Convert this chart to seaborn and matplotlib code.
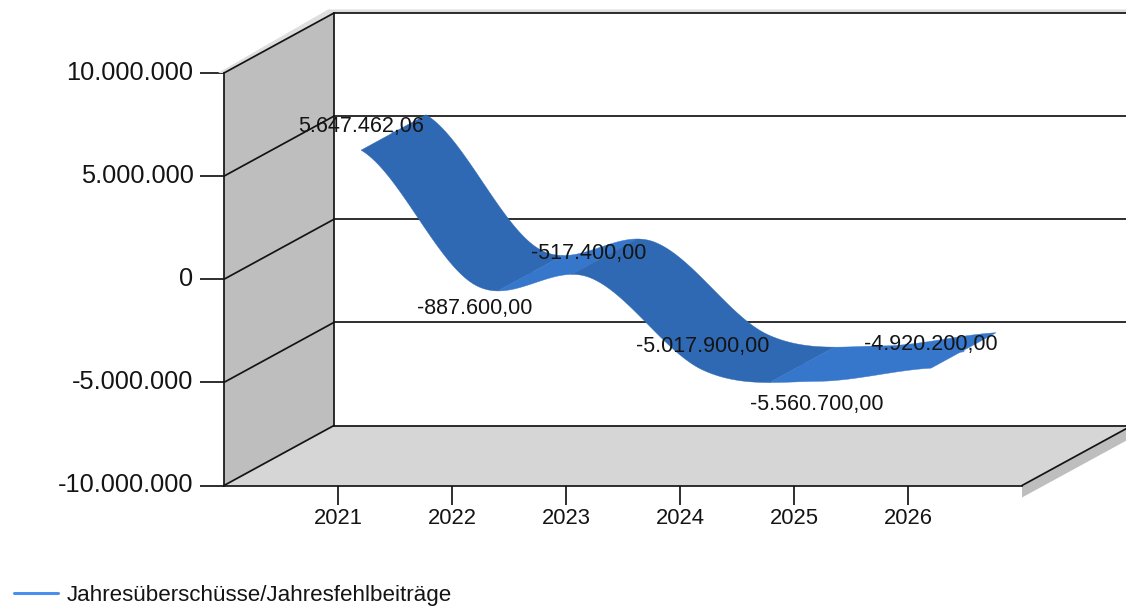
import numpy as np
import matplotlib
matplotlib.use("Agg")
import matplotlib.pyplot as plt
from matplotlib.ticker import FuncFormatter
from matplotlib.transforms import ScaledTranslation
import seaborn as sns

years = [2021, 2022, 2023, 2024, 2025, 2026]
values = [5647462.06, -887600.0, -517400.0, -5017900.0, -5560700.0, -4920200.0]
value_labels = ["5.647.462,06", "-887.600,00", "-517.400,00", "-5.017.900,00", "-5.560.700,00", "-4.920.200,00"]
label_side = [1, -1, 1, 1, -1, 1]
series_name = "Jahresüberschüsse/Jahresfehlbeiträge"
y_ticks = [-10000000, -5000000, 0, 5000000, 10000000]

W, H = 1126, 606
L, R, T, B = 224, 1022, 73, 485.5
sns.set_theme(style="white")
plt.rcParams["font.family"] = ["Liberation Sans", "DejaVu Sans"]
INK = "#141414"
fig = plt.figure(figsize=(W / 100, H / 100), dpi=100, facecolor="white")
ax = fig.add_axes([L / W, 1 - B / H, (R - L) / W, (B - T) / H])
ax.set_xlim(2020, 2027)
ax.set_ylim(-10000000, 10000000)
ax.patch.set_alpha(0)

PX = (R - L) / 7
PY = (B - T) / 20000000
DX = 110 / PX   # depth vector, in data units
DY = 60 / PY
X0, X1, Y0, Y1 = 2020, 2027, -10000000, 10000000
XR = X1 + 3  # runs past the picture edge; cut by the figure

def poly(xs, ys, c, z):
    ax.fill(xs, ys, color=c, lw=0, zorder=z, clip_on=False)

def seg(xs, ys, z=3):
    ax.plot(xs, ys, color=INK, lw=1.25, zorder=z, clip_on=False, solid_capstyle="round")

# shadows
sx, sy = 6 / PX, 3.5 / PY
poly([X0, X0 + DX, XR, XR, X0 + DX - sx, X0 - sx],
     [Y1, Y1 + DY, Y1 + DY, Y1 + DY + sy, Y1 + DY + sy, Y1], "#dedede", 1)
poly([X1, X1 + DX, X1 + DX, X1], [Y0, Y0 + DY, Y0 + DY - 12 / PY, Y0 - 12 / PY], "#bebebe", 1)
# walls
poly([X0, X0 + DX, X0 + DX, X0], [Y0, Y0 + DY, Y1 + DY, Y1], "#bebebe", 2)
poly([X0, X1, X1 + DX, X0 + DX], [Y0, Y0, Y0 + DY, Y0 + DY], "#d6d6d6", 2)
# grid and frame
for t in y_ticks:
    seg([X0, X0 + DX], [t, t + DY])
    if t > Y0:
        seg([X0 + DX, XR], [t + DY, t + DY])
seg([X0 + DX, X0 + DX], [Y0 + DY, Y1 + DY])
seg([X0 + DX, XR], [Y0 + DY, Y0 + DY])
seg([X1, X1 + DX], [Y0, Y0 + DY])

# ribbon: cardinal spline through the values
yr = np.array(years, float)
v = np.array(values, float)
m = np.zeros_like(v)
m[1:-1] = (v[2:] - v[:-2]) / 2
m[0] = (v[1] - v[0]) / 2
m[-1] = (v[-1] - v[-2]) / 2
xs, ys = [], []
for i in range(len(v) - 1):
    t = np.linspace(0, 1, 60, endpoint=i == len(v) - 2)
    ys.append((2*t**3 - 3*t**2 + 1) * v[i] + (t**3 - 2*t**2 + t) * m[i]
              + (-2*t**3 + 3*t**2) * v[i + 1] + (t**3 - t**2) * m[i + 1])
    xs.append(yr[i] + t)
xs, ys = np.concatenate(xs), np.concatenate(ys)
F, K = 0.21, 0.80
DARK, LIGHT = "#2f69b3", "#3777cb"
rising = np.diff(ys) > 0
breaks = [0] + list(np.where(np.diff(rising.astype(int)) != 0)[0] + 1) + [len(xs) - 1]
for a, b in zip(breaks[:-1], breaks[1:]):
    c = LIGHT if rising[a] else DARK
    sx_, sy_ = xs[a:b + 1], ys[a:b + 1]
    ax.fill(np.r_[sx_ + F * DX, (sx_ + K * DX)[::-1]], np.r_[sy_ + F * DY, (sy_ + K * DY)[::-1]],
            facecolor=c, edgecolor=c, lw=0.3, zorder=5, clip_on=False)

# centre line sits inside the ribbon and gives the legend entry
sns.lineplot(x=xs + 0.5 * DX, y=ys + 0.5 * DY, color="#4a8ff0", lw=2.2, label=series_name,
             ax=ax, zorder=4, sort=False, errorbar=None)

for x, y, s, side in zip(years, values, value_labels, label_side):
    ax.annotate(s, (x + F * DX, y + F * DY), xytext=(0, 17 * side), textcoords="offset points",
                ha="center", va="center", fontsize=15.5, color=INK, zorder=7, annotation_clip=False)

ax.set_xticks(years)
ax.set_yticks(y_ticks)
ax.yaxis.set_major_formatter(FuncFormatter(lambda y, _: f"{int(y):,}".replace(",", ".")))
ax.tick_params(axis="y", direction="out", length=17, width=1.25, color=INK, labelsize=18.3, labelcolor=INK, pad=5, left=True)
ax.tick_params(axis="x", direction="out", length=14, width=1.25, color=INK, labelsize=15.8, labelcolor=INK, pad=2.5, bottom=True)
for s in ("top", "right"):
    ax.spines[s].set_visible(False)
for s in ("left", "bottom"):
    ax.spines[s].set_color(INK)
    ax.spines[s].set_linewidth(1.25)
    ax.spines[s].set_zorder(6)
ax.set_xlabel("")
ax.set_ylabel("")
shift = ScaledTranslation(0, 2 / 72, fig.dpi_scale_trans)
for lab in ax.get_yticklabels():
    lab.set_transform(lab.get_transform() + shift)

ax.legend(loc="lower left", bbox_to_anchor=(14 / W, 0), bbox_transform=fig.transFigure, frameon=False,
          fontsize=16.1, labelcolor=INK, handlelength=1.95, handletextpad=0.42, borderpad=0, borderaxespad=0)
fig.savefig("out.png", dpi=100)
